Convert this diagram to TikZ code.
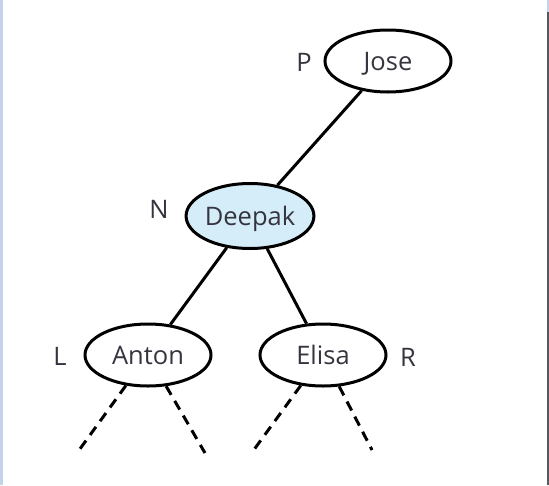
\documentclass[tikz,border=0pt]{standalone}
\usepackage{fontspec}
\setmainfont{Open Sans}
\usetikzlibrary{shapes.geometric}
\definecolor{txt}{HTML}{35353F}
\definecolor{nodeblue}{HTML}{D5EDF8}
\definecolor{edgeblue}{HTML}{C3D3EC}
\definecolor{edgegray}{HTML}{55585E}
\begin{document}
\begin{tikzpicture}[x=1pt,y=-1pt,
  tnode/.style={ellipse,draw=black,line width=3pt,minimum width=126pt,minimum height=62pt,inner sep=0pt,text=txt,font=\fontsize{25.5}{30}\selectfont,text height=18pt,text depth=0pt},
  lbl/.style={text=txt,font=\fontsize{25.5}{30}\selectfont,inner sep=0pt,text height=18pt,text depth=0pt},
  branch/.style={line width=3pt,draw=black},
  stub/.style={line width=3pt,draw=black,dash pattern=on 10pt off 7pt}]
\useasboundingbox (0,0) rectangle (549,485);
\fill[white] (0,0) rectangle (549,485);
\fill[edgeblue] (0,0) rectangle (2.5,485);
\fill[edgeblue] (546.5,0) rectangle (549,12);
\fill[edgegray] (546.5,12) rectangle (549,485);
\node[tnode] (jose) at (388,61) {Jose};
\node[tnode,fill=nodeblue,minimum height=65pt] (deepak) at (250,216) {Deepak};
\node[tnode] (anton) at (148,355) {Anton};
\node[tnode] (elisa) at (323,355) {Elisa};
\node[lbl] (p) at (304,62) {P};
\node[lbl] (n) at (159,209) {N};
\node[lbl] (l) at (60,356) {L};
\node[lbl] (r) at (408,357) {R};
\draw[branch] (jose) -- (deepak);
\draw[branch] (deepak) -- (anton);
\draw[branch] (deepak) -- (elisa);
\coordinate (a1) at (77,453);
\coordinate (a2) at (205,453);
\coordinate (e1) at (253,451);
\coordinate (e2) at (372,450);
\draw[stub] (anton) -- (a1);
\draw[stub] (anton) -- (a2);
\draw[stub] (elisa) -- (e1);
\draw[stub] (elisa) -- (e2);
\end{tikzpicture}
\end{document}
